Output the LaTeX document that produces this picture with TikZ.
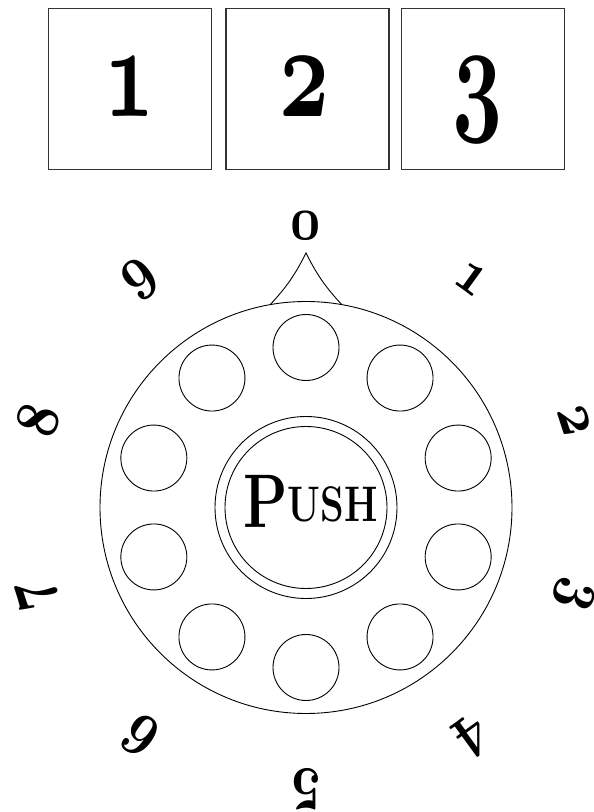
\documentclass[tikz,border=0pt]{standalone}
\usepackage{graphicx}
\usetikzlibrary{calc}
\font\boxosf=cmmib10 at 132pt
\font\ringosf=cmmib10 at 62pt
\newcommand\narrowdigit[1]{\scalebox{0.66}[1]{#1}}
\newcommand\ringglyph[1]{\scalebox{0.85}[1]{#1}}
\tikzset{
  numbox/.style={draw=black!80, line width=1.1pt, minimum width=163pt, minimum height=161pt, inner sep=0pt},
  boxdigit/.style={anchor=base, inner sep=0pt, font=\boxosf},
  ringdigit/.style={inner sep=0pt, font=\ringosf},
  ringline/.style={draw, circle, line width=0.9pt, inner sep=0pt},
  hole/.style={draw, circle, line width=0.9pt, minimum size=66pt, inner sep=0pt},
  pointer/.style={line width=0.9pt},
}
\begin{document}
\begin{tikzpicture}[x=1pt,y=1pt]
\useasboundingbox (0,0) rectangle (594,812);
% number boxes
\node[numbox] (b1) at (130,723) {};
\node[numbox] (b2) at (307.5,723) {};
\node[numbox] (b3) at (483,723) {};
\node[boxdigit] (t1) at (130,695) {\narrowdigit{1}};
\node[boxdigit] (t2) at (305,695) {\narrowdigit{2}};
\node[boxdigit] (t3) at (478,695) {\narrowdigit{3}};
% dial
\coordinate (c) at (306,304.5);
\node[ringline, minimum size=412pt] (dial) at (c) {};
\node[ringline, minimum size=182pt] (pushout) at (c) {};
\node[ringline, minimum size=162pt] (pushin) at (c) {};
\node[inner sep=0pt, anchor=base] (push) at (310.5,290)
  {\scalebox{0.76}[1]{\bfseries\raisebox{-6pt}{\fontsize{76}{76}\selectfont P}\fontsize{50}{50}\selectfont USH}};
% pointer
\coordinate (pl) at ($(c)+(100:206)$);
\coordinate (pr) at ($(c)+(80:206)$);
\coordinate (ap) at ($(c)+(90:254.5)$);
\draw[pointer] (pl) to[bend right=8] (ap) to[bend right=8] (pr);
% holes and numbers
\foreach \k in {0,...,9} {
  \node[hole] (h\k) at ($(c)+({90-36*\k}:160)$) {};
  \node[ringdigit, rotate={-36*\k}] (n\k) at ($(c)+({90-36*\k}:282)$) {\ringglyph{\k}};
}
\end{tikzpicture}
\end{document}
